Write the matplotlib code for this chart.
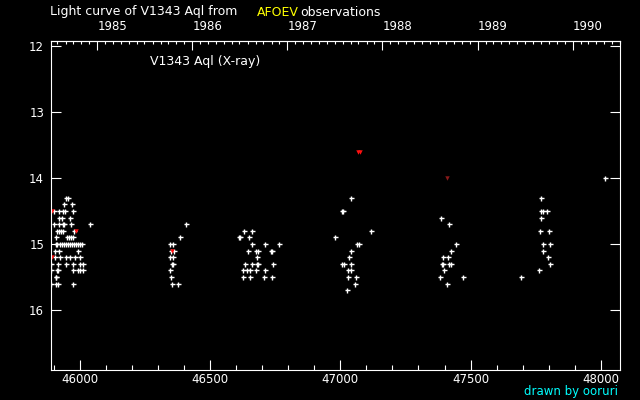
import datetime
import numpy as np
import matplotlib
matplotlib.use('Agg')
import matplotlib.pyplot as plt

# JD - 2400000 and magnitude, one pair of lists per observing season
s1_jd = [45948, 45952, 45940, 45970, 45901, 45920, 45935, 45944, 45973,
         45919, 45932, 45963, 45901, 45920, 45936, 45940, 45967, 46040,
         45913, 45920, 45928, 45936, 45977, 45907, 45951, 45959, 45967, 45974,
         45907, 45913, 45923, 45931, 45939, 45947, 45954, 45962, 45970, 45977,
         45985, 45993, 46000, 46007, 45905, 45920, 45993,
         45905, 45924, 45947, 45963, 45982, 46001,
         45890, 45917, 45947, 45974, 46001, 46010,
         45890, 45913, 45917, 45974, 45992, 46001, 46010,
         45907, 45909, 45890, 45908, 45917, 45974]
s1_mag = [14.3, 14.3, 14.4, 14.4, 14.5, 14.5, 14.5, 14.5, 14.5,
          14.6, 14.6, 14.6, 14.7, 14.7, 14.7, 14.7, 14.7, 14.7,
          14.8, 14.8, 14.8, 14.8, 14.8, 14.9, 14.9, 14.9, 14.9, 14.9,
          15.0, 15.0, 15.0, 15.0, 15.0, 15.0, 15.0, 15.0, 15.0, 15.0,
          15.0, 15.0, 15.0, 15.0, 15.1, 15.1, 15.1,
          15.2, 15.2, 15.2, 15.2, 15.2, 15.2,
          15.3, 15.3, 15.3, 15.3, 15.3, 15.3,
          15.4, 15.4, 15.4, 15.4, 15.4, 15.4, 15.4,
          15.5, 15.5, 15.6, 15.6, 15.6, 15.6]

s2_jd = [46408, 46385, 46347, 46358, 46351, 46362, 46347, 46358,
         46353, 46357, 46347, 46351, 46353, 46378]
s2_mag = [14.7, 14.9, 15.0, 15.0, 15.1, 15.1, 15.2, 15.2,
          15.3, 15.3, 15.4, 15.5, 15.6, 15.6]

s3_jd = [46631, 46662, 46612, 46616, 46650, 46662, 46712, 46765,
         46646, 46677, 46685, 46735, 46739, 46681,
         46635, 46662, 46679, 46683, 46742,
         46627, 46643, 46654, 46677, 46712,
         46627, 46654, 46708, 46739]
s3_mag = [14.8, 14.8, 14.9, 14.9, 14.9, 15.0, 15.0, 15.0,
          15.1, 15.1, 15.1, 15.1, 15.1, 15.2,
          15.3, 15.3, 15.3, 15.3, 15.3,
          15.4, 15.4, 15.4, 15.4, 15.4,
          15.5, 15.5, 15.5, 15.5]

s4_jd = [47042, 47007, 47011, 47119, 46981, 47065, 47073, 47042, 47034,
         47007, 47015, 47042, 47031, 47042, 47031, 47061, 47057, 47027]
s4_mag = [14.3, 14.5, 14.5, 14.8, 14.9, 15.0, 15.0, 15.1, 15.2,
          15.3, 15.3, 15.3, 15.4, 15.4, 15.5, 15.5, 15.6, 15.7]

s5_jd = [47388, 47418, 47445, 47426, 47395, 47414, 47390, 47394, 47418,
         47426, 47399, 47384, 47472, 47411]
s5_mag = [14.6, 14.7, 15.0, 15.1, 15.2, 15.2, 15.3, 15.3, 15.3,
          15.3, 15.4, 15.5, 15.5, 15.6]

s6_jd = [47772, 47772, 47779, 47795, 47772, 47768, 47802, 47780, 47806,
         47780, 47799, 47806, 47764, 47695, 48018]
s6_mag = [14.3, 14.5, 14.5, 14.5, 14.6, 14.8, 14.8, 15.0, 15.0,
          15.1, 15.2, 15.3, 15.4, 15.5, 14.0]

# red marks (fainter-than estimates)
lim_jd = [45891, 45985, 45891, 46353, 47068, 47076]
lim_mag = [14.5, 14.8, 15.2, 15.1, 13.6, 13.6]
dark_jd = [47411]
dark_mag = [14.0]

years = [1985, 1986, 1987, 1988, 1989, 1990]

def to_jd(d):
    return (d - datetime.date(1858, 11, 17)).days + 0.5

plt.rcParams['font.family'] = 'DejaVu Sans'

fig = plt.figure(figsize=(6.4, 4.0), dpi=100, facecolor='black')
ax = fig.add_axes([51/640, 30/400, 569/640, 329/400], facecolor='black')

all_jd = s1_jd + s2_jd + s3_jd + s4_jd + s5_jd + s6_jd
all_mag = s1_mag + s2_mag + s3_mag + s4_mag + s5_mag + s6_mag
ax.plot(all_jd, all_mag, linestyle='none', marker='+', color='white',
        markersize=3.6, markeredgewidth=1.0)
ax.plot(lim_jd, lim_mag, linestyle='none', marker='v', color='#ff1010',
        markersize=3.2, markeredgewidth=0)
ax.plot(dark_jd, dark_mag, linestyle='none', marker='v', color='#8a1a1a',
        markersize=3.2, markeredgewidth=0)

ax.set_xlim(45888.6, 48074)
ax.set_ylim(16.909, 11.924)

for s in ax.spines.values():
    s.set_color('white')
    s.set_linewidth(0.8)

ax.set_xticks(np.arange(46000, 48001, 500))
ax.set_xticks(np.arange(45900, 48071, 100), minor=True)
ax.set_yticks([12, 13, 14, 15, 16])
ax.tick_params(axis='x', which='major', direction='in', length=7.2, width=0.8,
               color='white', labelcolor='white', labelsize=8.5, pad=2,
               top=False)
ax.tick_params(axis='x', which='minor', direction='in', length=3.6, width=0.8,
               color='white', top=False)
ax.tick_params(axis='y', which='major', direction='in', length=7.2, width=0.8,
               color='white', labelcolor='white', labelsize=8.5, pad=5,
               right=True)

top = ax.secondary_xaxis('top')
top.set_xticks([to_jd(datetime.date(y, 1, 1)) for y in years])
top.set_xticklabels([str(y) for y in years])
months = [to_jd(datetime.date(y, m, 1)) for y in range(1984, 1991) for m in range(1, 13)]
top.set_xticks([m for m in months if 45888.6 < m < 48074], minor=True)
top.tick_params(axis='x', which='major', direction='in', length=6.5, width=0.8,
                color='white', labelcolor='white', labelsize=8.5, pad=6)
top.tick_params(axis='x', which='minor', direction='in', length=2.2, width=0.8,
                color='white')
top.spines['top'].set_color('white')
for lab in top.get_xticklabels():
    lab.set_ha('left')

fig.text(50/640, 1 - 12/400, 'Light curve of V1343 Aql from', color='white',
         fontsize=9, va='center', ha='left')
fig.text(257/640, 1 - 12/400, 'AFOEV', color='#ffff00', fontsize=9,
         va='center', ha='left')
fig.text(300/640, 1 - 12/400, 'observations', color='white', fontsize=9,
         va='center', ha='left')
fig.text(150/640, 1 - 61/400, 'V1343 Aql (X-ray)', color='white', fontsize=9,
         va='center', ha='left')
fig.text(618/640, 1 - 391/400, 'drawn by ooruri', color='#00ffff', fontsize=8.5,
         va='center', ha='right')

fig.savefig('out.png', dpi=100, facecolor='black')
plt.close()
